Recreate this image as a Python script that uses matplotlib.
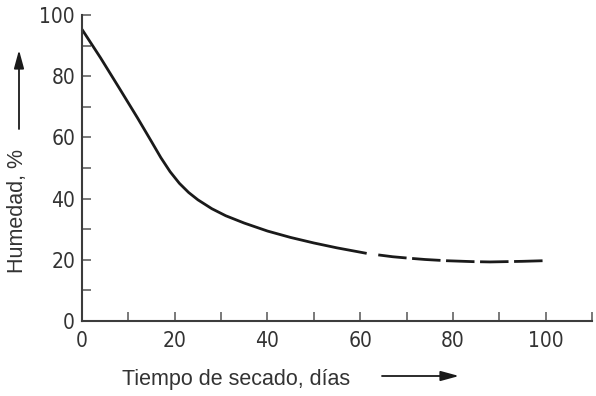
import matplotlib
matplotlib.use("Agg")
import matplotlib.pyplot as plt

# Data
solid_x = [0, 4, 8, 12, 15, 17, 19, 21, 23, 25, 28, 31, 35, 40, 45, 50, 55, 61.4]
solid_y = [95.3, 86.0, 76.2, 66.3, 58.6, 53.4, 48.8, 45.0, 42.0, 39.6, 36.7, 34.4, 32.0, 29.4, 27.3, 25.5, 23.9, 22.1]
dash_x = [63.9, 67, 70.7, 74, 78.6, 84.3, 88, 91.5, 95, 99.6]
dash_y = [21.6, 21.0, 20.5, 20.1, 19.7, 19.4, 19.3, 19.4, 19.5, 19.7]

x_ticks = list(range(0, 111, 10))
y_ticks = list(range(0, 101, 10))
x_labels = [0, 20, 40, 60, 80, 100]
y_labels = [0, 20, 40, 60, 80, 100]

xlabel = "Tiempo de secado, días"
ylabel = "Humedad, %"

plt.rcParams['lines.scale_dashes'] = False
W, H = 596, 396
fig = plt.figure(figsize=(W / 100, H / 100), dpi=100)
ax = fig.add_axes([82 / W, (H - 321) / H, 510 / W, 306 / H])

ink = "#1a1a1a"
ax.plot(solid_x, solid_y, color=ink, lw=2.0, solid_capstyle='butt',
        solid_joinstyle='round', clip_on=False)
ax.plot(dash_x, dash_y, color=ink, lw=2.0, dashes=(20.5, 4.0),
        dash_capstyle='butt', clip_on=False)

ax.set_xlim(0, 110)
ax.set_ylim(0, 100)
for s in ("top", "right"):
    ax.spines[s].set_visible(False)
spc = "#3c3c3c"
for s in ("left", "bottom"):
    ax.spines[s].set_color(spc)
    ax.spines[s].set_linewidth(1.5)

ax.set_xticks(x_ticks)
ax.set_yticks(y_ticks)
ax.set_xticklabels([str(v) if v in x_labels else "" for v in x_ticks])
ax.set_yticklabels([str(v) if v in y_labels else "" for v in y_ticks])

for lab in ax.get_xticklabels() + ax.get_yticklabels():
    lab.set_fontfamily("DejaVu Sans")
    lab.set_fontstretch("condensed")
    lab.set_fontsize(15)
    lab.set_color("#333333")
ax.tick_params(axis="both", direction="in", length=6.5, width=1.1, color="#555555")
ax.tick_params(axis="x", pad=7)
ax.tick_params(axis="y", pad=5)

# Axis titles with arrows
fig.text(122 / W, (H - 379) / H, xlabel, family="Liberation Sans", fontsize=15.5,
         color="#333333", ha="left", va="center")
fig.text(18 / W, (H - 211) / H, ylabel, family="Liberation Sans", fontsize=15.5,
         color="#333333", ha="center", va="center", rotation=90)

arrow_kw = dict(arrowstyle="-|>,head_length=1.1,head_width=0.3", color=ink, lw=1.3,
                shrinkA=0, shrinkB=0)
ax.annotate("", xy=(459, H - 376), xytext=(382, H - 376),
            xycoords="figure pixels", textcoords="figure pixels", arrowprops=arrow_kw)
ax.annotate("", xy=(19, H - 50), xytext=(19, H - 129),
            xycoords="figure pixels", textcoords="figure pixels", arrowprops=arrow_kw)

fig.savefig("out.png", dpi=100)
